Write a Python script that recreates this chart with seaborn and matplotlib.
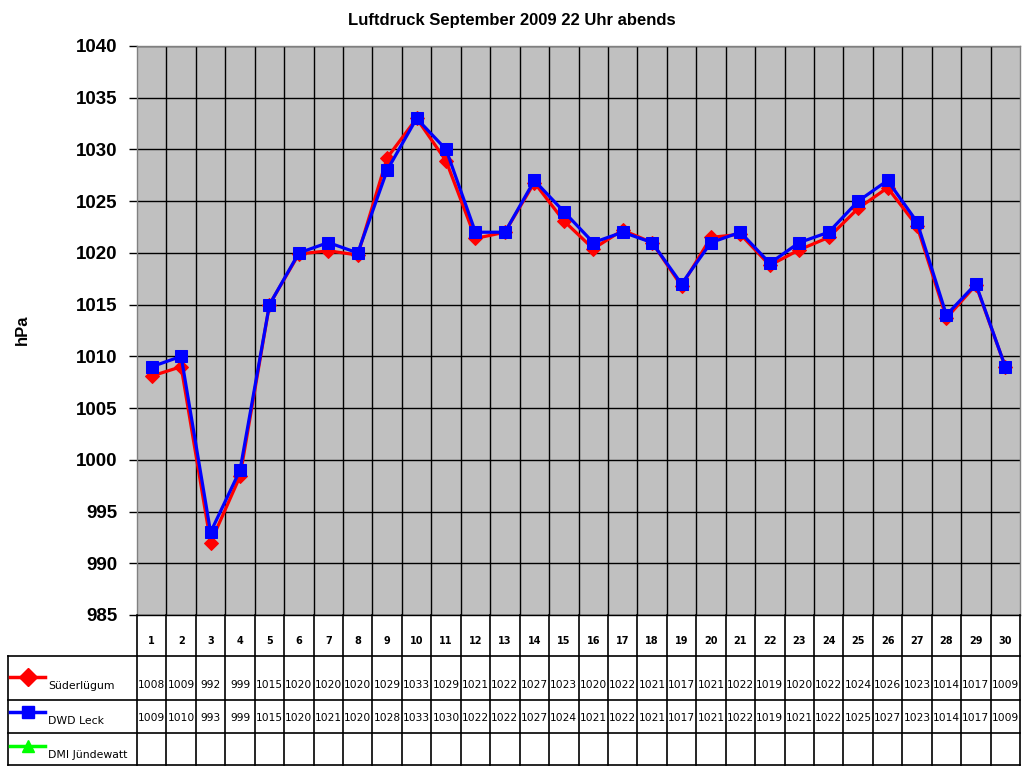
import numpy as np
import pandas as pd
import seaborn as sns
import matplotlib.pyplot as plt
from matplotlib.lines import Line2D

# Luftdruck-Daten September 2009, 22 Uhr
days = list(range(1, 31))
sued = [1008.1, 1009.0, 992.0, 998.4, 1015.0, 1019.9, 1020.2, 1019.8, 1029.2, 1033.0,
        1028.9, 1021.4, 1022.0, 1026.8, 1023.1, 1020.4, 1022.2, 1021.0, 1016.8, 1021.5,
        1021.8, 1018.8, 1020.3, 1021.5, 1024.3, 1026.3, 1022.6, 1013.7, 1016.9, 1009.0]
sued_tab = [1008, 1009, 992, 999, 1015, 1020, 1020, 1020, 1029, 1033,
            1029, 1021, 1022, 1027, 1023, 1020, 1022, 1021, 1017, 1021,
            1022, 1019, 1020, 1022, 1024, 1026, 1023, 1014, 1017, 1009]
leck = [1009, 1010, 993, 999, 1015, 1020, 1021, 1020, 1028, 1033,
        1030, 1022, 1022, 1027, 1024, 1021, 1022, 1021, 1017, 1021,
        1022, 1019, 1021, 1022, 1025, 1027, 1023, 1014, 1017, 1009]
stations = ["Süderlügum", "DWD Leck", "DMI Jündewatt"]
colors = ["red", "blue", "#00ff00"]
markers = ["D", "s", "^"]
yticks = list(range(985, 1041, 5))

W, H = 1024, 768
fig = plt.figure(figsize=(W / 100, H / 100), dpi=100)

ax = fig.add_axes([137 / W, 1 - 615 / H, 883 / W, 569 / H])
ax.set_facecolor("#c0c0c0")
df = pd.DataFrame({"Tag": days, "sued": sued, "leck": leck})
sns.lineplot(data=df, x="Tag", y="sued", ax=ax, color="red", marker="D",
             markersize=7.5, markeredgecolor="red", linewidth=2.3, zorder=3)
sns.lineplot(data=df, x="Tag", y="leck", ax=ax, color="blue", marker="s",
             markersize=9.2, markeredgecolor="blue", linewidth=2.3, zorder=4)
ax.set_xlim(0.5, 30.5)
ax.set_ylim(985, 1040)
ax.set_yticks(yticks)
ax.set_yticklabels([str(v) for v in yticks], fontsize=13.5, fontweight="bold",
                   family="Liberation Sans")
ax.set_xticks(np.arange(1.5, 30.5, 1))
ax.set_xticklabels([])
ax.tick_params(axis="x", length=0)
ax.tick_params(axis="y", length=6, width=1, pad=8, color="black")
ax.grid(True, color="black", linewidth=1)
ax.set_axisbelow(True)
ax.set_xlabel("")
ax.set_ylabel("")
for s in ax.spines.values():
    s.set_color("#808080")
    s.set_linewidth(1)
ax.spines["bottom"].set_color("black")
fig.text(22 / W, 1 - 330 / H, "hPa", rotation=90, fontsize=12, fontweight="bold",
         family="Liberation Sans", ha="center", va="center")
fig.text(0.5, 1 - 20 / H, "Luftdruck September 2009 22 Uhr abends", fontsize=12,
         fontweight="bold", family="Liberation Sans", ha="center", va="center")

# Datentabelle
tab = fig.add_axes([8 / W, 1 - 765 / H, 1012 / W, 150 / H])
step = 883 / 30
xl = 0.5 - 129 / step
tab.set_xlim(xl, 30.5)
tab.set_ylim(0, 150)
tab.axis("off")
lk = dict(color="black", linewidth=1.2, clip_on=False)
for yy in [0, 32, 65, 109]:
    tab.plot([xl, 30.5], [yy, yy], **lk)
tab.plot([xl, xl], [0, 109], **lk)
for xx in np.arange(0.5, 31, 1):
    tab.plot([xx, xx], [0, 150], **lk)
for d in days:
    tab.text(d, 124, str(d), ha="center", va="center", fontsize=7, fontweight="bold")
    tab.text(d, 80, str(sued_tab[d - 1]), ha="center", va="center", fontsize=7.7)
    tab.text(d, 47, str(leck[d - 1]), ha="center", va="center", fontsize=7.7)
rows_y = [88, 53, 19]
for name, c, m, ry in zip(stations, colors, markers, rows_y):
    x0 = xl + 2 / step
    x1 = xl + 37 / step
    tab.add_line(Line2D([x0, x1], [ry, ry], color=c, linewidth=2.5, clip_on=False))
    tab.add_line(Line2D([(x0 + x1) / 2], [ry], color=c, marker=m, markersize=9,
                        markeredgecolor=c, linestyle="none", clip_on=False))
    tab.text(xl + 40 / step, ry - 9, name, ha="left", va="center", fontsize=7.8)

fig.savefig("out.png", dpi=100)
